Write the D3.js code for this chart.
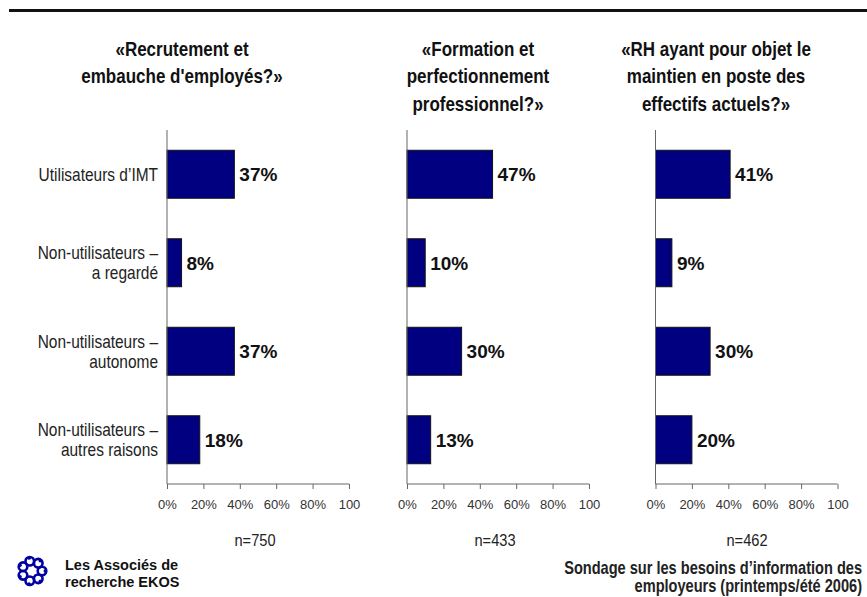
<!DOCTYPE html>
<html><head><meta charset="utf-8">
<script src="https://cdn.jsdelivr.net/npm/d3@7"></script>
<style>
body{margin:0;background:#fff;}
svg{display:block;}
text{font-family:"Liberation Sans",Arial,sans-serif;}
</style></head>
<body>
<script>
const categories = [
  ["Utilisateurs d\u2019IMT"],
  ["Non-utilisateurs \u2013", "a regard\u00e9"],
  ["Non-utilisateurs \u2013", "autonome"],
  ["Non-utilisateurs \u2013", "autres raisons"]
];
const panelTitles = [
  ["\u00abRecrutement et", "embauche d'employ\u00e9s?\u00bb"],
  ["\u00abFormation et", "perfectionnement", "professionnel?\u00bb"],
  ["\u00abRH ayant pour objet le", "maintien en poste des", "effectifs actuels?\u00bb"]
];
const recrutementValues = [37, 8, 37, 18];
const formationValues = [47, 10, 30, 13];
const maintienValues = [41, 9, 30, 20];
const sampleSizes = ["n=750", "n=433", "n=462"];
const tickValues = [0, 20, 40, 60, 80, 100];
const tickLabels = ["0%", "20%", "40%", "60%", "80%", "100"];
const footerLines = ["Sondage sur les besoins d\u2019information des", "employeurs (printemps/\u00e9t\u00e9 2006)"];
const logoLines = ["Les Associ\u00e9s de", "recherche EKOS"];

const seriesValues = [recrutementValues, formationValues, maintienValues];

const W = 867, H = 597;
const svg = d3.select("body").append("svg").attr("width", W).attr("height", H);

// condensed multi-line text helper (emulates Arial Narrow)
function narrow(parent, lines, x, y, opts) {
  const t = parent.append("text")
    .attr("transform", `translate(${x},${y}) scale(${opts.sx},1)`)
    .attr("text-anchor", opts.anchor || "start")
    .attr("font-size", opts.size)
    .attr("font-weight", opts.weight || "normal")
    .attr("fill", opts.fill || "#111");
  lines.forEach((line, i) => {
    t.append("tspan").attr("x", 0).attr("y", i * opts.lh).attr("dy", opts.dy || 0).text(line);
  });
  return t;
}

// top rule
svg.append("line").attr("x1", 9).attr("x2", W).attr("y1", 10.5).attr("y2", 10.5)
  .attr("stroke", "#111").attr("stroke-width", 3);

const panelX = [167, 407, 655.5];
const panelW = 182;
const titleCx = [182, 478, 716];
const nCx = [255, 495, 747];
const plotTop = 130, plotBottom = 484;

const y = d3.scaleBand().domain(d3.range(categories.length)).range([plotTop, plotBottom])
  .paddingInner(0.458).paddingOuter(0.229);

seriesValues.forEach((vals, p) => {
  const x = d3.scaleLinear().domain([0, 100]).range([panelX[p], panelX[p] + panelW]);
  const g = svg.append("g");

  // title
  narrow(g, panelTitles[p], titleCx[p], 56,
    {sx: 0.85, anchor: "middle", size: 20, weight: "bold", lh: 27.4, fill: "#111"});

  // bars
  g.selectAll("rect.bar").data(vals).join("rect").attr("class", "bar")
    .attr("x", x(0)).attr("y", (d, i) => y(i))
    .attr("width", d => x(d) - x(0)).attr("height", y.bandwidth())
    .attr("fill", "#000080").attr("stroke", "#111").attr("stroke-width", 1);

  // value labels
  g.selectAll("text.val").data(vals).join("text").attr("class", "val")
    .attr("x", d => x(d) + 5).attr("y", (d, i) => y(i) + y.bandwidth() / 2)
    .attr("dy", "0.36em").attr("font-size", 19).attr("font-weight", "bold")
    .attr("fill", "#111").text(d => d + "%");

  // x axis
  const ax = d3.axisBottom(x).tickValues(tickValues).tickSize(5).tickPadding(11)
    .tickFormat((d, i) => tickLabels[i]);
  const axg = g.append("g").attr("transform", `translate(0,${plotBottom})`).call(ax);
  axg.select(".domain").attr("stroke", "#666").attr("d", `M${x(0)},0H${x(100)}`);
  axg.selectAll(".tick line").attr("stroke", "#666");
  axg.selectAll(".tick text").attr("font-family", "'Liberation Sans',Arial,sans-serif")
    .attr("font-size", 13).attr("fill", "#333");

  // y axis line
  g.append("line").attr("x1", x(0)).attr("x2", x(0)).attr("y1", plotTop).attr("y2", plotBottom)
    .attr("stroke", "#666").attr("stroke-width", 1);

  // n label
  narrow(g, [sampleSizes[p]], nCx[p], 546,
    {sx: 0.86, anchor: "middle", size: 17, lh: 0, fill: "#222"});
});

// category labels
const cl = svg.append("g");
categories.forEach((lines, i) => {
  const cy = y(i) + y.bandwidth() / 2 - (lines.length - 1) * 10;
  narrow(cl, lines, 158, cy,
    {sx: 0.86, anchor: "end", size: 18, lh: 20, dy: "0.36em", fill: "#222"});
});

// footer
narrow(svg, footerLines, 862, 574,
  {sx: 0.81, anchor: "end", size: 18, weight: "bold", lh: 18, fill: "#222"});

// logo text
const lt = svg.append("text").attr("font-size", 14.5)
  .attr("font-weight", "bold").attr("fill", "#111");
logoLines.forEach((line, i) => {
  lt.append("tspan").attr("x", 65).attr("y", 570 + i * 16.5).text(line);
});

// logo swirl
const logo = svg.append("g").attr("transform", "translate(32,571)");
d3.range(7).forEach(k => {
  const a = k / 7 * 2 * Math.PI;
  const cx = Math.cos(a) * 10, cy = Math.sin(a) * 10;
  logo.append("circle").attr("cx", cx).attr("cy", cy).attr("r", 4.3)
    .attr("fill", "none").attr("stroke", "#0000a0").attr("stroke-width", 2.6);
  logo.append("circle").attr("cx", cx * 1.32).attr("cy", cy * 1.32).attr("r", 1.7)
    .attr("fill", "#0000a0");
});
</script>
</body></html>
